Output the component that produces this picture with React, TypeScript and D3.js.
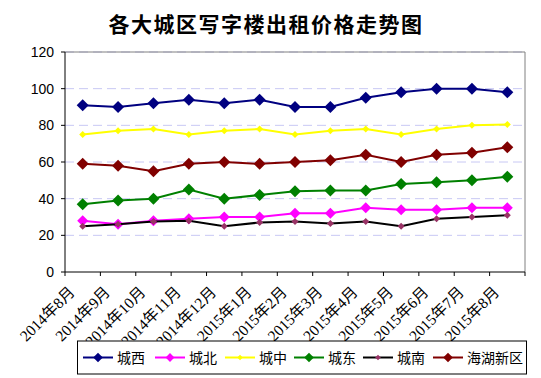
import React from "react";
import * as d3 from "d3";

const categories = [
  "2014年8月", "2014年9月", "2014年10月", "2014年11月", "2014年12月",
  "2015年1月", "2015年2月", "2015年3月", "2015年4月", "2015年5月",
  "2015年6月", "2015年7月", "2015年8月",
];
const chengxi = [91, 90, 92, 94, 92, 94, 90, 90, 95, 98, 100, 100, 98];
const chengbei = [28, 26, 28, 29, 30, 30, 32, 32, 35, 34, 34, 35, 35];
const chengzhong = [75, 77, 78, 75, 77, 78, 75, 77, 78, 75, 78, 80, 80.5];
const chengdong = [37, 39, 40, 45, 40, 42, 44, 44.5, 44.5, 48, 49, 50, 52];
const chengnan = [25, 26, 27.5, 28, 25, 27, 27.5, 26.5, 27.5, 25, 29, 30, 31];
const haihu = [59, 58, 55, 59, 60, 59, 60, 61, 64, 60, 64, 65, 68];
const yTicks = [0, 20, 40, 60, 80, 100, 120];

const series = [
  { name: "城西", values: chengxi, line: "#000080", marker: "#000080", size: 6 },
  { name: "城北", values: chengbei, line: "#ff00ff", marker: "#ff00ff", size: 5.5 },
  { name: "城中", values: chengzhong, line: "#ffff00", marker: "#ffff00", size: 3.5 },
  { name: "城东", values: chengdong, line: "#008000", marker: "#008000", size: 6 },
  { name: "城南", values: chengnan, line: "#000000", marker: "#993366", size: 3.5 },
  { name: "海湖新区", values: haihu, line: "#800000", marker: "#800000", size: 6 },
];

const L = 65, R = 525, T = 52, B = 272;

export default function App() {
  const x = d3.scaleBand<string>().domain(categories).range([L, R]);
  const y = d3.scaleLinear().domain([0, 120]).range([B, T]);
  const cx = (c: string) => (x(c) as number) + x.bandwidth() / 2;
  const line = d3.line<number>().x((_, i) => cx(categories[i])).y((v) => y(v));
  const diamond = (px: number, py: number, s: number) =>
    `M${px},${py - s}L${px + s},${py}L${px},${py + s}L${px - s},${py}Z`;
  const legendX = [83, 155, 225, 294, 363, 433];
  const tickXs = d3.range(categories.length + 1).map((i) => L + x.step() * i);

  return (
    <svg width={541} height={378} style={{ position: "absolute", left: 0, top: 0, background: "#fff" }}>
      <text x={266} y={32} textAnchor="middle" fontFamily="'Noto Sans CJK SC'" fontWeight="bold" fontSize={21} letterSpacing={1.5}>
        各大城区写字楼出租价格走势图
      </text>
      {yTicks.filter((t) => t > 0).map((t) => (
        <line key={t} x1={L} x2={R} y1={y(t)} y2={y(t)} stroke="#c8c8f4" strokeWidth={1} strokeDasharray="9,5" />
      ))}
      <path d={`M${L},${T}H${R}V${B}`} fill="none" stroke="#808080" strokeWidth={1} />
      <line x1={L} x2={L} y1={T} y2={B} stroke="#000" />
      <line x1={L} x2={R} y1={B} y2={B} stroke="#000" />
      {tickXs.map((tx, i) => (
        <line key={i} x1={tx} x2={tx} y1={B} y2={B + 4} stroke="#000" />
      ))}
      {yTicks.map((t) => (
        <g key={t}>
          <line x1={L - 4} x2={L} y1={y(t)} y2={y(t)} stroke="#000" />
          <text x={54} y={y(t) + 5} textAnchor="end" fontFamily="'Liberation Sans'" fontSize={14}>{t}</text>
        </g>
      ))}
      {categories.map((c) => (
        <text key={c} transform={`translate(${cx(c) - 7},${B + 21}) rotate(-45)`} textAnchor="end"
          fontFamily="'Liberation Serif','Noto Sans CJK SC'" fontSize={15.5}>{c}</text>
      ))}
      {series.map((s) => (
        <g key={s.name}>
          <path d={line(s.values) as string} fill="none" stroke={s.line} strokeWidth={2} />
          {s.values.map((v, i) => (
            <path key={i} d={diamond(cx(categories[i]), y(v), s.size)} fill={s.marker} />
          ))}
        </g>
      ))}
      <rect x={77.5} y={341} width={449} height={33} fill="#fff" stroke="#000" strokeWidth={1} />
      {series.map((s, i) => (
        <g key={s.name}>
          <line x1={legendX[i]} x2={legendX[i] + 30} y1={357.5} y2={357.5} stroke={s.line} strokeWidth={2} />
          <path d={diamond(legendX[i] + 15, 357.5, s.size * 0.8)} fill={s.marker} />
          <text x={legendX[i] + 34} y={363} fontFamily="'Noto Sans CJK SC'" fontSize={14}>{s.name}</text>
        </g>
      ))}
    </svg>
  );
}
